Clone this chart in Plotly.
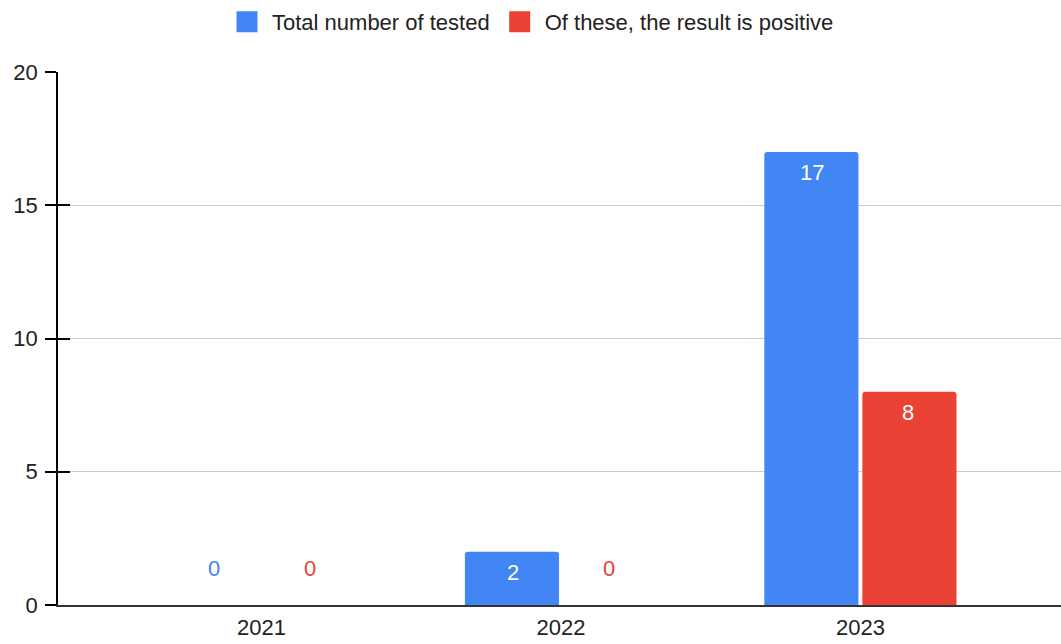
import plotly.graph_objects as go

years = ["2021", "2022", "2023"]
tested = [0, 2, 17]
positive = [0, 0, 8]
series_names = ["Total number of tested", "Of these, the result is positive"]
colors = ["#4285F4", "#EA4335"]
y_ticks = [0, 5, 10, 15, 20]

FONT = "Arial, 'Liberation Sans', sans-serif"
FS = 22

fig = go.Figure()
for name, vals, col in zip(series_names, [tested, positive], colors):
    fig.add_trace(go.Bar(x=years, y=vals, name=name, marker_color=col,
                         marker_line_width=0, showlegend=False))
# legend swatches (large squares)
for name, col in zip(series_names, colors):
    fig.add_trace(go.Scatter(x=[None], y=[None], mode="markers", name=name,
                             marker=dict(symbol="square", size=16, color=col,
                                         line=dict(width=5, color=col))))
# overlay axis for inside half of the crossing ticks
fig.add_trace(go.Scatter(x=[None], y=[None], yaxis="y2", showlegend=False,
                         hoverinfo="skip"))

# value labels (x given as category index)
offsets = [-48, 48]
for vals, col, dx in zip([tested, positive], colors, offsets):
    for i, v in enumerate(vals):
        if v == 0:
            fig.add_annotation(x=i, y=v, text=str(v), showarrow=False,
                               xshift=dx, yshift=37,
                               font=dict(family=FONT, size=FS, color=col))
        else:
            fig.add_annotation(x=i, y=v, text=str(v), showarrow=False,
                               xshift=dx, yshift=-21,
                               font=dict(family=FONT, size=FS, color="white"))

fig.update_layout(
    width=1061, height=644,
    margin=dict(l=58, r=0, t=72, b=39),
    paper_bgcolor="white", plot_bgcolor="white",
    font=dict(family=FONT, size=FS, color="#222222"),
    barmode="group", bargap=0.345, bargroupgap=0.04,
    barcornerradius=3,
    legend=dict(orientation="h", xref="container", x=0.5, xanchor="center",
                yref="container", y=1 - 22 / 644, yanchor="middle",
                font=dict(family=FONT, size=FS, color="#222222"),
                itemsizing="trace", traceorder="normal", itemwidth=40),
    xaxis=dict(type="category", range=[-0.68, 2.67], showgrid=False,
               showline=True, linecolor="#333333", linewidth=1.5, ticks="",
               ticklabelstandoff=2, zeroline=False),
    yaxis=dict(range=[0, 20], tickvals=y_ticks, showgrid=True,
               gridcolor="#cccccc", gridwidth=1.3, showline=True,
               linecolor="black", linewidth=1.5, ticks="outside",
               ticklen=11, tickwidth=1.5, tickcolor="black",
               zeroline=False, ticklabelstandoff=3),
    yaxis2=dict(range=[0, 20], tickvals=y_ticks, overlaying="y", side="left",
                anchor="x", ticks="inside", ticklen=12, tickwidth=1.5,
                tickcolor="black", showticklabels=False, showgrid=False,
                zeroline=False, showline=False),
)

fig.write_html("out.html", config={"displayModeBar": False},
               post_script="document.body.style.margin='0';")
